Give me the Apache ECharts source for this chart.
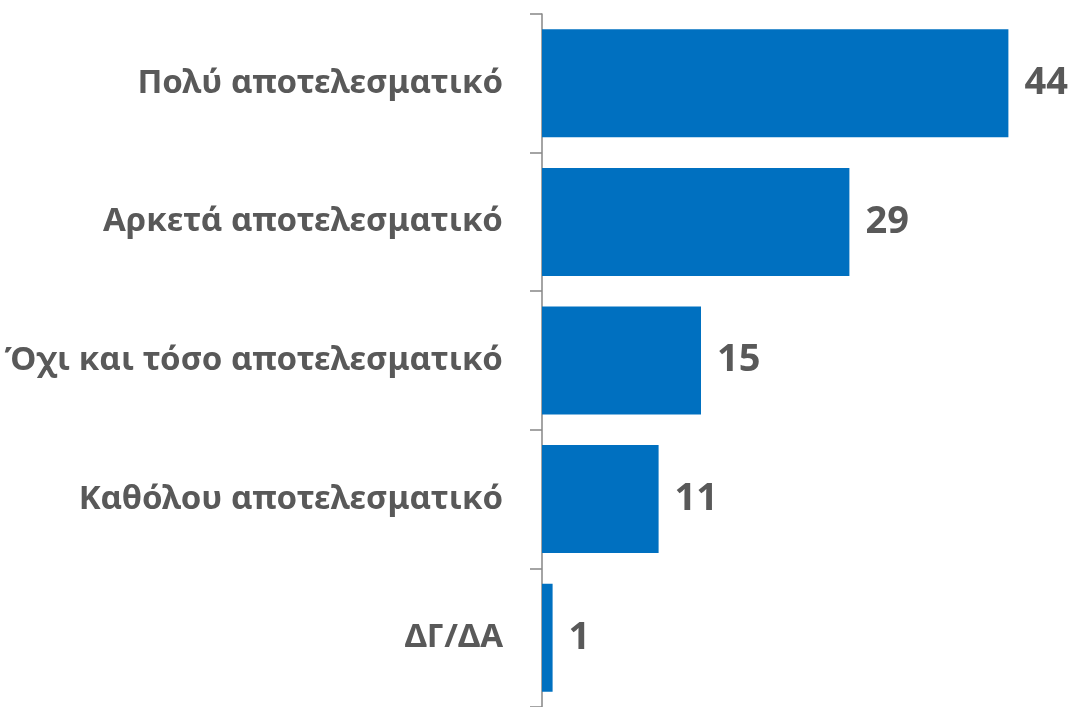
<!DOCTYPE html>
<html><head><meta charset="utf-8">
<script src="https://cdn.jsdelivr.net/npm/echarts@6/dist/echarts.min.js"></script>
<style>html,body{margin:0;padding:0;background:#fff}#c{width:1075px;height:707px}</style>
</head><body><div id="c"></div>
<script>
const categories = ["Πολύ αποτελεσματικό","Αρκετά αποτελεσματικό","Όχι και τόσο αποτελεσματικό","Καθόλου αποτελεσματικό","ΔΓ/ΔΑ"];
const values = [44, 29, 15, 11, 1];

const chart = echarts.init(document.getElementById('c'), null, {renderer:'canvas'});
chart.setOption({
  animation:false,
  grid:{left:542, top:14, width:530, height:696, containLabel:false},
  xAxis:{type:'value', min:0, max:50, show:false},
  yAxis:{type:'category', inverse:true, data:categories,
    axisLine:{show:true, lineStyle:{color:'#868686', width:1.5}},
    axisTick:{show:true, length:12, lineStyle:{color:'#868686', width:1.5}},
    axisLabel:{margin:39, color:'#595959', fontFamily:'Noto Sans', fontWeight:'bold', fontSize:33}
  },
  series:[{type:'bar', data:values, barWidth:108,
    itemStyle:{color:'#0070C0'},
    label:{show:true, position:'right', distance:16, color:'#595959', fontFamily:'Noto Sans', fontWeight:'bold', fontSize:38}
  }]
});
</script></body></html>
